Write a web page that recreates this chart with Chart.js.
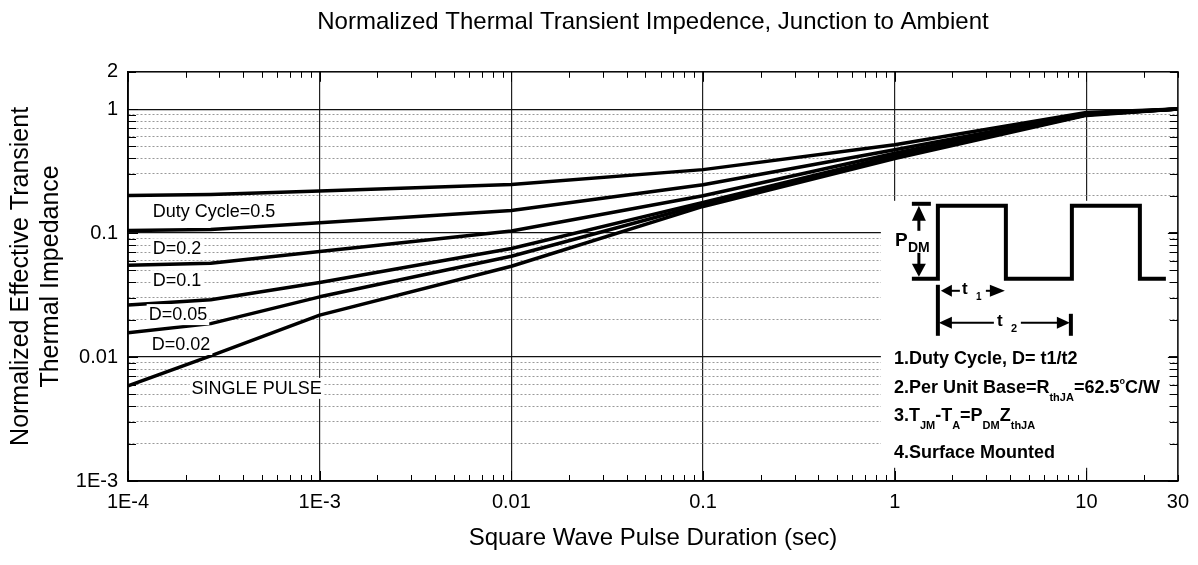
<!DOCTYPE html>
<html>
<head>
<meta charset="utf-8">
<script src="https://cdn.jsdelivr.net/npm/chart.js@4.4.1/dist/chart.umd.min.js"></script>
<style>
  html, body { margin: 0; padding: 0; background: #fff; }
</style>
</head>
<body>
<canvas id="myChart" width="1198" height="565"></canvas>
<script>
// pulse duration (sec)
const pulseTimes = [1e-4, 2.7e-4, 1e-3, 1e-2, 0.1, 1, 10, 30];

// normalized Zth for each duty cycle
const duty05 = [0.201, 0.205, 0.218, 0.246, 0.325, 0.515, 0.94, 1.0];
const duty02 = [0.105, 0.107, 0.121, 0.152, 0.245, 0.47, 0.92, 1.0];
const duty01 = [0.055, 0.057, 0.071, 0.104, 0.2, 0.44, 0.91, 1.0];
const duty005 = [0.0263, 0.029, 0.04, 0.075, 0.177, 0.42, 0.9, 1.0];
const duty002 = [0.0157, 0.0186, 0.0306, 0.065, 0.17, 0.41, 0.9, 1.0];
const singlePulse = [0.00586, 0.0102, 0.0218, 0.054, 0.164, 0.4, 0.89, 1.0];

const seriesNames = ["D=0.5", "D=0.2", "D=0.1", "D=0.05", "D=0.02", "Single Pulse"];
const seriesValues = [duty05, duty02, duty01, duty005, duty002, singlePulse];

// tick labels
const xMajorTicks = [1e-4, 1e-3, 0.01, 0.1, 1, 10, 30];
const xMajorLabels = ["1E-4", "1E-3", "0.01", "0.1", "1", "10", "30"];
const yMajorTicks = [0.001, 0.01, 0.1, 1, 2];
const yMajorLabels = ["1E-3", "0.01", "0.1", "1", "2"];

// curve labels, placed in data coordinates (left edge, vertical middle)
const curveLabelText = ["Duty Cycle=0.5", "D=0.2", "D=0.1", "D=0.05", "D=0.02", "SINGLE PULSE"];
const curveLabelX = [1.345e-4, 1.345e-4, 1.345e-4, 1.282e-4, 1.33e-4, 2.147e-4];
const curveLabelY = [0.152, 0.0753, 0.0417, 0.0222, 0.01274, 0.00564];

const FONT = '"Liberation Sans", Arial, Helvetica, sans-serif';

function isDecade(v) {
  const l = Math.log10(v);
  return Math.abs(l - Math.round(l)) < 1e-6;
}

function findLabel(v, ticks, labels) {
  for (let i = 0; i < ticks.length; i++) {
    if (Math.abs(v - ticks[i]) / ticks[i] < 1e-6) return labels[i];
  }
  return "";
}

const xTickValues = [];
for (let e = -4; e <= 1; e++) {
  for (let m = 1; m <= 9; m++) {
    const v = Number((m * Math.pow(10, e)).toPrecision(6));
    if (v <= 30) xTickValues.push(v);
  }
}
const yTickValues = [];
for (let e = -3; e <= -1; e++) {
  for (let m = 1; m <= 9; m++) {
    yTickValues.push(Number((m * Math.pow(10, e)).toPrecision(6)));
  }
}
yTickValues.push(1, 2);

// draw a filled triangle
function tri(ctx, pts) {
  ctx.beginPath();
  ctx.moveTo(pts[0][0], pts[0][1]);
  ctx.lineTo(pts[1][0], pts[1][1]);
  ctx.lineTo(pts[2][0], pts[2][1]);
  ctx.closePath();
  ctx.fill();
}

function line(ctx, x1, y1, x2, y2, w) {
  ctx.lineWidth = w;
  ctx.beginPath();
  ctx.moveTo(x1, y1);
  ctx.lineTo(x2, y2);
  ctx.stroke();
}

// text with sub / superscripts
function richText(ctx, x, y, parts) {
  let cx = x;
  parts.forEach(p => {
    let size = 18, dy = 0;
    if (p[1] === "sub") { size = 11; dy = 10; }
    if (p[1] === "sup") { size = 9; dy = -6; }
    ctx.font = "bold " + size + "px " + FONT;
    ctx.fillText(p[0], cx, y + dy);
    cx += ctx.measureText(p[0]).width;
  });
}

const annotations = {
  id: "annotations",
  afterDatasetsDraw(chart) {
    const ctx = chart.ctx;
    const xs = chart.scales.x, ys = chart.scales.y;
    const area = chart.chartArea;
    ctx.save();

    // curve labels with white background
    ctx.font = "18px " + FONT;
    ctx.textBaseline = "middle";
    for (let i = 0; i < curveLabelText.length; i++) {
      const px = xs.getPixelForValue(curveLabelX[i]);
      const py = ys.getPixelForValue(curveLabelY[i]);
      const w = ctx.measureText(curveLabelText[i]).width;
      ctx.fillStyle = "#fff";
      ctx.fillRect(px - 2, py - 10, w + 4, 21);
      ctx.fillStyle = "#000";
      ctx.fillText(curveLabelText[i], px, py + 1);
    }

    // inset box
    const bx = area.right - 297, by = area.top + 129;
    ctx.fillStyle = "#fff";
    ctx.fillRect(bx, by, 288, 267);

    ctx.translate(bx, by);
    ctx.fillStyle = "#000";
    ctx.strokeStyle = "#000";
    ctx.lineCap = "butt";

    // P_DM arrow
    line(ctx, 31, 3, 50, 3, 4);
    tri(ctx, [[38, 5], [31, 20], [45, 20]]);
    line(ctx, 38, 19, 38, 30, 3);
    line(ctx, 38, 52, 38, 64, 3);
    tri(ctx, [[38, 76], [31, 63], [45, 63]]);
    ctx.font = "bold 19px " + FONT;
    ctx.fillText("P", 14, 40);
    ctx.font = "bold 14px " + FONT;
    ctx.fillText("DM", 27, 47);

    // pulse train
    ctx.lineWidth = 4;
    ctx.lineJoin = "miter";
    ctx.beginPath();
    ctx.moveTo(31, 78);
    ctx.lineTo(57, 78);
    ctx.lineTo(57, 5);
    ctx.lineTo(125, 5);
    ctx.lineTo(125, 78);
    ctx.lineTo(191, 78);
    ctx.lineTo(191, 5);
    ctx.lineTo(259, 5);
    ctx.lineTo(259, 78);
    ctx.lineTo(285, 78);
    ctx.stroke();

    // t1 / t2 markers
    line(ctx, 57, 84, 57, 135, 4);
    line(ctx, 190, 113, 190, 135, 4);

    // t1
    tri(ctx, [[60, 90], [71, 84], [71, 96]]);
    line(ctx, 70, 90, 79, 90, 2);
    ctx.font = "bold 17px " + FONT;
    ctx.fillText("t", 81, 89);
    ctx.font = "bold 10px " + FONT;
    ctx.fillText("1", 95, 96);
    line(ctx, 105, 90, 110, 90, 2);
    tri(ctx, [[124, 90], [109, 84], [109, 96]]);

    // t2
    tri(ctx, [[58, 122], [71, 116], [71, 128]]);
    line(ctx, 70, 122, 113, 122, 2);
    ctx.font = "bold 17px " + FONT;
    ctx.fillText("t", 116, 121);
    ctx.font = "bold 11px " + FONT;
    ctx.fillText("2", 130, 128);
    line(ctx, 140, 122, 177, 122, 2);
    tri(ctx, [[189, 122], [176, 116], [176, 128]]);

    // notes
    richText(ctx, 13, 158, [["1.Duty Cycle, D= t1/t2", "n"]]);
    richText(ctx, 13, 187, [["2.Per Unit Base=R", "n"], ["thJA", "sub"], ["=62.5", "n"], ["o", "sup"], ["C/W", "n"]]);
    richText(ctx, 13, 215, [["3.T", "n"], ["JM", "sub"], ["-T", "n"], ["A", "sub"], ["=P", "n"], ["DM", "sub"], ["Z", "n"], ["thJA", "sub"]]);
    richText(ctx, 13, 252, [["4.Surface Mounted", "n"]]);

    ctx.restore();
  },
  afterDraw(chart) {
    const ctx = chart.ctx;
    const xs = chart.scales.x, ys = chart.scales.y;
    const area = chart.chartArea;
    ctx.save();
    ctx.strokeStyle = "#000";
    ctx.lineWidth = 1;
    // inward ticks on all four sides
    xs.ticks.forEach(t => {
      const px = Math.round(xs.getPixelForValue(t.value)) + 0.5;
      const len = isDecade(t.value) ? 10 : 6;
      line(ctx, px, area.bottom, px, area.bottom - len, 1);
      line(ctx, px, area.top, px, area.top + len, 1);
    });
    ys.ticks.forEach(t => {
      const py = Math.round(ys.getPixelForValue(t.value)) + 0.5;
      const len = isDecade(t.value) ? 10 : 8;
      line(ctx, area.left, py, area.left + len, py, 1);
      line(ctx, area.right, py, area.right - len, py, 1);
    });
    // frame
    ctx.lineWidth = 1.5;
    ctx.strokeRect(area.left, area.top, area.right - area.left, area.bottom - area.top);
    ctx.restore();
  }
};

const data = {
  datasets: seriesNames.map((name, i) => ({
    label: name,
    data: pulseTimes.map((t, j) => ({ x: t, y: seriesValues[i][j] })),
    borderColor: "#000",
    borderWidth: 3.5,
    borderJoinStyle: "round",
    pointRadius: 0,
    tension: 0,
    fill: false,
  })),
};

const config = {
  type: "line",
  data,
  options: {
    responsive: false,
    animation: false,
    devicePixelRatio: 1,
    layout: { padding: { right: 19 } },
    plugins: {
      legend: { display: false },
      tooltip: { enabled: false },
      title: {
        display: true,
        fullSize: false,
        text: "Normalized Thermal Transient Impedence, Junction to Ambient",
        color: "#000",
        font: { family: FONT, size: 24, weight: "normal" },
        padding: { top: 8, bottom: 35 },
      },
    },
    scales: {
      x: {
        type: "logarithmic",
        min: 1e-4,
        max: 30,
        afterBuildTicks: (s) => { s.ticks = xTickValues.map(v => ({ value: v })); },
        afterFit: (s) => { s.height = 84; },
        ticks: {
          autoSkip: false,
          maxRotation: 0,
          padding: 9,
          color: "#000",
          font: { family: FONT, size: 20 },
          callback: (v) => findLabel(v, xMajorTicks, xMajorLabels),
        },
        grid: {
          drawTicks: false,
          lineWidth: 1.2,
          color: (c) => (c.tick && isDecade(c.tick.value) && c.tick.value < 20 ? "#222" : "rgba(0,0,0,0)"),
        },
        border: { color: "#000", width: 1.5 },
        title: {
          display: true,
          text: "Square Wave Pulse Duration (sec)",
          color: "#000",
          font: { family: FONT, size: 24 },
          padding: { top: 0, bottom: 12 },
        },
      },
      y: {
        type: "logarithmic",
        min: 0.001,
        max: 2,
        afterBuildTicks: (s) => { s.ticks = yTickValues.map(v => ({ value: v })); },
        afterFit: (s) => { s.width = 128; },
        ticks: {
          autoSkip: false,
          padding: 10,
          color: "#000",
          font: { family: FONT, size: 20 },
          callback: (v) => findLabel(v, yMajorTicks, yMajorLabels),
        },
        grid: {
          drawTicks: false,
          lineWidth: (c) => (c.tick && isDecade(c.tick.value) ? 1.2 : 1),
          color: (c) => {
            if (!c.tick) return "#000";
            if (c.tick.value > 1.5) return "rgba(0,0,0,0)";
            return isDecade(c.tick.value) ? "#111" : "#999";
          },
        },
        border: {
          color: "#000",
          width: 1.5,
          dash: (c) => (c.tick && !isDecade(c.tick.value) ? [2, 2] : []),
        },
        title: {
          display: true,
          text: ["Normalized Effective Transient", "Thermal Impedance"],
          color: "#000",
          font: { family: FONT, size: 25 },
          padding: { top: 6, bottom: 0 },
        },
      },
    },
  },
  plugins: [annotations],
};

const myChart = new Chart(document.getElementById("myChart"), config);
</script>
</body>
</html>
